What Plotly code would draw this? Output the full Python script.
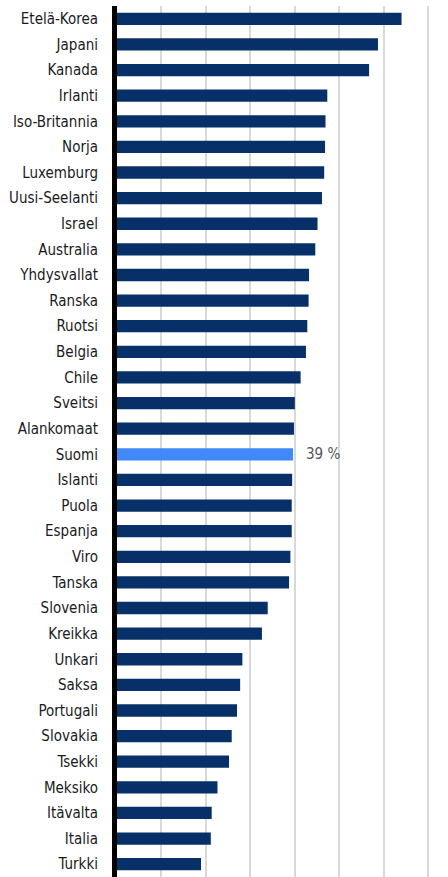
import plotly.graph_objects as go

countries = ["Etelä-Korea", "Japani", "Kanada", "Irlanti", "Iso-Britannia", "Norja",
             "Luxemburg", "Uusi-Seelanti", "Israel", "Australia", "Yhdysvallat", "Ranska",
             "Ruotsi", "Belgia", "Chile", "Sveitsi", "Alankomaat", "Suomi", "Islanti",
             "Puola", "Espanja", "Viro", "Tanska", "Slovenia", "Kreikka", "Unkari", "Saksa",
             "Portugali", "Slovakia", "Tsekki", "Meksiko", "Itävalta", "Italia", "Turkki"]
values = [64.0, 58.7, 56.7, 47.3, 46.9, 46.8, 46.6, 46.1, 45.1, 44.6, 43.2, 43.1,
          42.8, 42.5, 41.3, 40.0, 39.8, 39.6, 39.4, 39.3, 39.3, 39.0, 38.7, 33.9, 32.6,
          28.2, 27.7, 27.0, 25.8, 25.2, 22.6, 21.3, 21.1, 18.9]
highlight = "Suomi"
highlight_label = "39 %"

NAVY = "#073069"
LIGHT = "#4189fb"
colors = [LIGHT if c == highlight else NAVY for c in countries]
FONT = "DejaVu Sans Condensed, Liberation Sans Narrow, Roboto, sans-serif"

fig = go.Figure(go.Bar(
    x=values, y=countries, orientation="h",
    marker=dict(color=colors, line=dict(width=0)),
    hoverinfo="x+y",
))

fig.add_annotation(
    x=values[countries.index(highlight)], y=highlight,
    text=highlight_label, showarrow=False, xanchor="left", xshift=11,
    font=dict(family=FONT, size=15, color="#555555"),
)

fig.update_layout(
    width=448, height=877,
    margin=dict(l=117, r=18, t=6, b=0),
    paper_bgcolor="white", plot_bgcolor="white",
    bargap=0.52,
    showlegend=False,
    xaxis=dict(range=[0, 70.4], dtick=10, showticklabels=False, showgrid=True,
               gridcolor="#d9d9d9", gridwidth=2, zeroline=False, showline=False,
               fixedrange=True),
    yaxis=dict(autorange="reversed", showgrid=False, zeroline=False,
               showline=True, linecolor="black", linewidth=5,
               ticks="", ticklabelstandoff=11,
               tickfont=dict(family=FONT, size=15, color="#1a1a22"),
               fixedrange=True),
)

fig.write_html("out.html", config={"displayModeBar": False},
               post_script="document.body.style.margin='0';")
